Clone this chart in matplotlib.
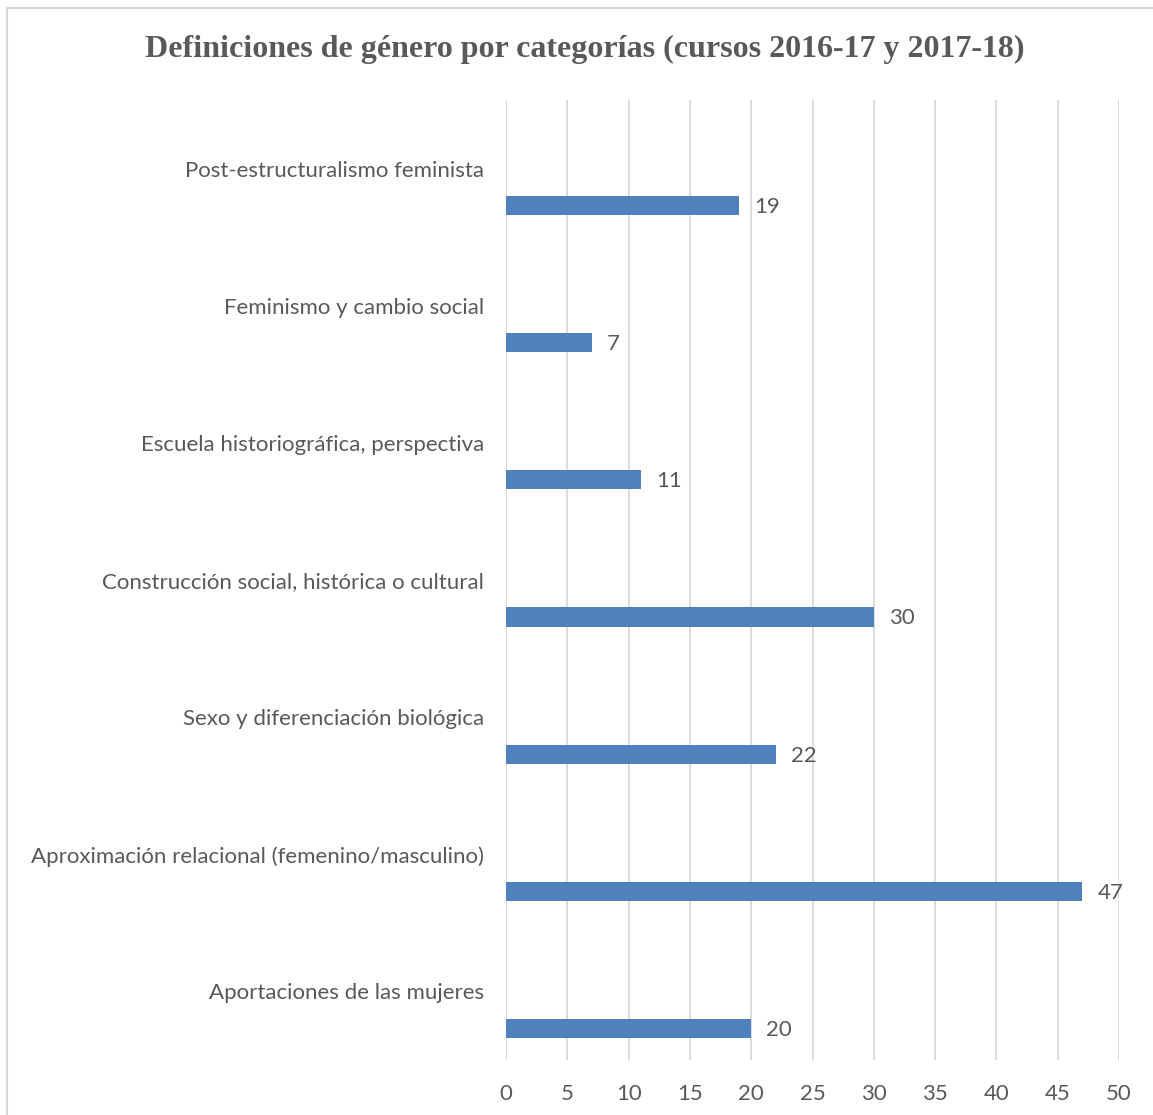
import numpy as np
import matplotlib.pyplot as plt
from matplotlib.lines import Line2D

categorias = [
    "Post-estructuralismo feminista",
    "Feminismo y cambio social",
    "Escuela historiográfica, perspectiva",
    "Construcción social, histórica o cultural",
    "Sexo y diferenciación biológica",
    "Aproximación relacional (femenino/masculino)",
    "Aportaciones de las mujeres",
]
valores = [19, 7, 11, 30, 22, 47, 20]
ticks_x = [0, 5, 10, 15, 20, 25, 30, 35, 40, 45, 50]

gris = "#595959"
azul = "#4F81BD"

fig = plt.figure(figsize=(11.53, 11.15), dpi=100)
ax = fig.add_axes([506 / 1153, 1 - 1060 / 1115, (1119 - 506) / 1153, (1060 - 100) / 1115])

pos = np.arange(len(categorias))
# las barras van desplazadas por debajo de la etiqueta de su categoría
ax.barh(pos + 0.27, valores, height=0.14, color=azul)
for p, v in zip(pos, valores):
    ax.annotate(str(v), (v, p + 0.27), xytext=(11, -1), textcoords="offset points",
                va="center", ha="left", fontsize=16, color=gris, family="Lato")

ax.set_xlim(0, 50)
ax.set_ylim(len(categorias) - 0.5, -0.5)
ax.set_xticks(ticks_x)
ax.set_yticks(pos)
ax.set_yticklabels(categorias)
ax.tick_params(axis="y", length=0, pad=16, labelsize=16, labelcolor=gris)
ax.tick_params(axis="x", length=0, pad=17, labelsize=16, labelcolor=gris)
for lab in ax.get_xticklabels() + ax.get_yticklabels():
    lab.set_family("Lato")
ax.grid(axis="x", color="#D9D9D9", lw=1.3)
ax.set_axisbelow(True)
for s in ax.spines.values():
    s.set_visible(False)

fig.text(585 / 1153, 1 - 49 / 1115, "Definiciones de género por categorías (cursos 2016-17 y 2017-18)",
         ha="center", va="center", fontsize=23, fontweight="bold", color=gris,
         family="Liberation Serif")

# marco del gráfico (arriba e izquierda)
fig.add_artist(Line2D([7 / 1153, 1], [1 - 8 / 1115, 1 - 8 / 1115], color="#D9D9D9", lw=1.5))
fig.add_artist(Line2D([7 / 1153, 7 / 1153], [0, 1 - 8 / 1115], color="#D9D9D9", lw=1.5))

fig.savefig("out.png", dpi=100)
